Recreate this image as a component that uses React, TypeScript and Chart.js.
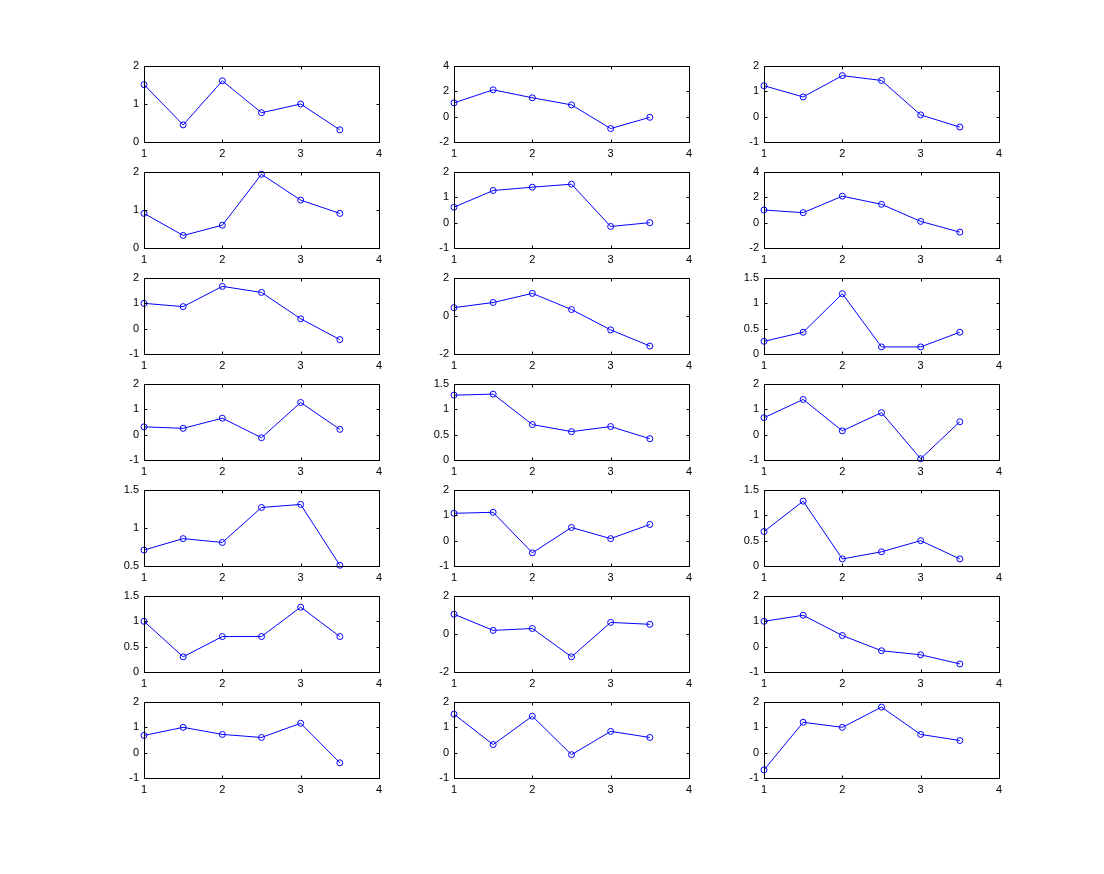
import React, { useEffect, useRef } from "react";
import { Chart, registerables } from "chart.js";

Chart.register(...registerables);

// x positions shared by every panel
const xValues = [1, 1.5, 2, 2.5, 3, 3.5];
const xTicks = [1, 2, 3, 4];

// series values, row by row (r = row, c = column)
const r1c1 = [1.51, 0.45, 1.61, 0.77, 1.0, 0.32];
const r1c2 = [1.09, 2.12, 1.49, 0.93, -0.94, -0.05];
const r1c3 = [1.22, 0.78, 1.62, 1.43, 0.07, -0.41];
const r2c1 = [0.91, 0.33, 0.6, 1.94, 1.26, 0.91];
const r2c2 = [0.61, 1.27, 1.4, 1.52, -0.15, 0.0];
const r2c3 = [1.0, 0.79, 2.09, 1.45, 0.1, -0.75];
const r3c1 = [1.0, 0.87, 1.67, 1.43, 0.39, -0.43];
const r3c2 = [0.44, 0.71, 1.19, 0.34, -0.73, -1.58];
const r3c3 = [0.25, 0.43, 1.19, 0.14, 0.14, 0.43];
const r4c1 = [0.31, 0.25, 0.65, -0.12, 1.27, 0.21];
const r4c2 = [1.28, 1.3, 0.7, 0.56, 0.66, 0.42];
const r4c3 = [0.67, 1.39, 0.15, 0.87, -0.95, 0.51];
const r5c1 = [0.71, 0.86, 0.81, 1.27, 1.31, 0.51];
const r5c2 = [1.08, 1.12, -0.48, 0.52, 0.08, 0.64];
const r5c3 = [0.68, 1.28, 0.14, 0.28, 0.5, 0.14];
const r6c1 = [1.0, 0.3, 0.7, 0.7, 1.28, 0.7];
const r6c2 = [1.04, 0.19, 0.29, -1.2, 0.61, 0.51];
const r6c3 = [1.0, 1.24, 0.44, -0.16, -0.32, -0.68];
const r7c1 = [0.68, 1.0, 0.72, 0.6, 1.16, -0.4];
const r7c2 = [1.52, 0.32, 1.44, -0.08, 0.84, 0.6];
const r7c3 = [-0.68, 1.2, 1.0, 1.8, 0.72, 0.48];

const panelSeries = [
  r1c1, r1c2, r1c3,
  r2c1, r2c2, r2c3,
  r3c1, r3c2, r3c3,
  r4c1, r4c2, r4c3,
  r5c1, r5c2, r5c3,
  r6c1, r6c2, r6c3,
  r7c1, r7c2, r7c3,
];

// y axis ranges and tick steps per panel
const yMins = [0, -2, -1, 0, -1, -2, -1, -2, 0, -1, 0, -1, 0.5, -1, 0, 0, -2, -1, -1, -1, -1];
const yMaxs = [2, 4, 2, 2, 2, 4, 2, 2, 1.5, 2, 1.5, 2, 1.5, 2, 1.5, 1.5, 2, 2, 2, 2, 2];
const ySteps = [1, 2, 1, 1, 1, 2, 1, 2, 0.5, 1, 0.5, 1, 0.5, 1, 0.5, 0.5, 2, 1, 1, 1, 1];

// layout
const COLS = 3;
const colLefts = [144, 454, 764];
const rowTops = [66, 172, 278, 384, 490, 596, 702];
const BOX_W = 235;
const BOX_H = 76;
const PAD_L = 40;
const PAD_T = 16;
const PAD_R = 15;
const PAD_B = 22;

const FONT = { family: "'Liberation Sans', Arial, Helvetica, sans-serif", size: 11 };

const boxPlugin = {
  id: "matlabBox",
  afterDraw(chart: any) {
    const { ctx, chartArea: a, scales } = chart;
    const L = Math.round(a.left) + 0.5;
    const R = Math.round(a.right) + 0.5;
    const T = Math.round(a.top) + 0.5;
    const B = Math.round(a.bottom) + 0.5;
    const tl = 3;
    ctx.save();
    ctx.strokeStyle = "#000";
    ctx.lineWidth = 1;
    ctx.strokeRect(L, T, R - L, B - T);
    ctx.beginPath();
    scales.x.ticks.forEach((t: any) => {
      const px = Math.round(scales.x.getPixelForValue(t.value)) + 0.5;
      ctx.moveTo(px, B);
      ctx.lineTo(px, B - tl);
      ctx.moveTo(px, T);
      ctx.lineTo(px, T + tl);
    });
    scales.y.ticks.forEach((t: any) => {
      const py = Math.round(scales.y.getPixelForValue(t.value)) + 0.5;
      ctx.moveTo(L, py);
      ctx.lineTo(L + tl, py);
      ctx.moveTo(R, py);
      ctx.lineTo(R - tl, py);
    });
    ctx.stroke();
    ctx.restore();
  },
};

function Panel({ index }: { index: number }) {
  const ref = useRef<HTMLCanvasElement | null>(null);
  useEffect(() => {
    if (!ref.current) return;
    const values = panelSeries[index];
    const chart = new Chart(ref.current, {
      type: "line",
      data: {
        datasets: [
          {
            data: xValues.map((x, i) => ({ x, y: values[i] })),
            borderColor: "#0000ff",
            borderWidth: 1,
            pointRadius: 3,
            pointBorderWidth: 1,
            pointBorderColor: "#0000ff",
            pointBackgroundColor: "rgba(0,0,0,0)",
            fill: false,
            tension: 0,
            clip: false as any,
          },
        ],
      },
      options: {
        responsive: false,
        animation: false,
        events: [],
        layout: { padding: { left: 0, top: PAD_T, right: PAD_R, bottom: 0 } },
        plugins: { legend: { display: false }, tooltip: { enabled: false } },
        scales: {
          x: {
            type: "linear",
            min: xTicks[0],
            max: xTicks[xTicks.length - 1],
            afterBuildTicks: (s: any) => {
              s.ticks = xTicks.map((v) => ({ value: v }));
            },
            afterFit: (s: any) => {
              s.height = PAD_B;
            },
            grid: { display: false, drawTicks: false },
            border: { display: false },
            ticks: {
              padding: 5,
              color: "#000",
              font: FONT,
              maxRotation: 0,
              callback: (v: any) => String(v),
            },
          },
          y: {
            type: "linear",
            min: yMins[index],
            max: yMaxs[index],
            afterFit: (s: any) => {
              s.width = PAD_L;
            },
            grid: { display: false, drawTicks: false },
            border: { display: false },
            ticks: {
              stepSize: ySteps[index],
              padding: 5,
              color: "#000",
              font: FONT,
              callback: (v: any) => String(Math.round(Number(v) * 100) / 100),
            },
          },
        },
      },
      plugins: [boxPlugin],
    });
    return () => chart.destroy();
  }, [index]);

  const r = Math.floor(index / COLS);
  const c = index % COLS;
  const w = PAD_L + BOX_W + PAD_R;
  const h = PAD_T + BOX_H + PAD_B;
  return (
    <canvas
      ref={ref}
      width={w}
      height={h}
      style={{
        position: "absolute",
        left: colLefts[c] - PAD_L,
        top: rowTops[r] - PAD_T,
        width: w,
        height: h,
      }}
    />
  );
}

export default function App() {
  return (
    <div>
      {panelSeries.map((_, i) => (
        <Panel key={i} index={i} />
      ))}
    </div>
  );
}
